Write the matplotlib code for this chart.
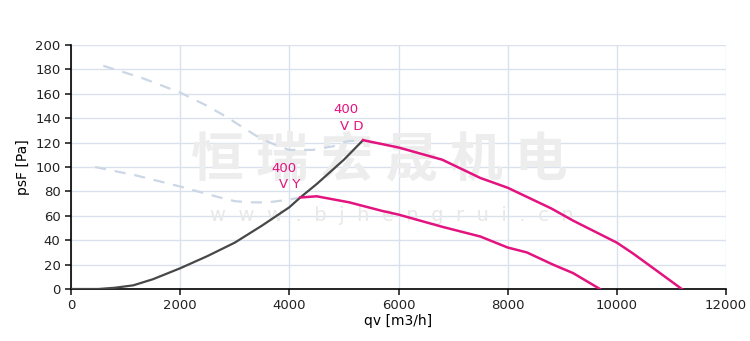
import matplotlib.pyplot as plt
import numpy as np

# system curve (black)
sys_qv = [0, 500, 800, 1140, 1500, 2000, 2500, 3000, 3500, 4000, 4200, 4500, 5000, 5350]
sys_ps = [0, 0, 1, 3, 8, 17, 27, 38, 52, 67, 75, 86, 106, 122]

# 400 VD
vd_qv = [5350, 6000, 6800, 7500, 8000, 8800, 9200, 10000, 10300, 10700, 11190]
vd_ps = [122, 116, 106, 91, 83, 66, 56, 38, 29, 16, 0]

# 400 VY
vy_qv = [4200, 4500, 5100, 5700, 6000, 6800, 7500, 8000, 8350, 8830, 9200, 9690]
vy_ps = [75, 76, 71, 64, 61, 51, 43, 34, 30, 20, 13, 0]

# dashed background curves
d1_qv = [590, 1300, 2000, 2500, 2850, 3200, 3450, 3750, 4000, 4430, 4800, 5050, 5350]
d1_ps = [183, 173, 161, 150, 141, 131, 124, 118, 114, 114, 117, 121, 122]
d2_qv = [440, 1200, 2000, 2400, 2730, 3000, 3280, 3600, 3960, 4200]
d2_ps = [100, 93, 84, 79, 75, 72, 71, 71, 73, 75]

xticks = np.arange(0, 12001, 2000)
yticks = np.arange(0, 201, 20)

pink = '#e3137f'

fig = plt.figure(figsize=(7.5, 3.41), dpi=100)
ax = fig.add_axes([0.0947, 0.1525, 0.8733, 0.7155])

ax.set_xlim(0, 12000)
ax.set_ylim(0, 200)
ax.set_xticks(xticks)
ax.set_yticks(yticks)
ax.grid(True, color='#d9e1ed', linewidth=1.0, zorder=0)
ax.set_axisbelow(True)

for s in ['top', 'right']:
    ax.spines[s].set_visible(False)
for s in ['left', 'bottom']:
    ax.spines[s].set_linewidth(1.2)
ax.tick_params(direction='out', length=4, width=1.2, labelsize=9.5, colors='#222222')
ax.tick_params(axis='x', pad=3)

# watermark
ax.text(0.47, 0.53, '恒 瑞 宏 晟 机 电', transform=ax.transAxes, ha='center', va='center',
        fontsize=38, fontweight='bold', color='#ededed', family=['Noto Sans CJK SC', 'DejaVu Sans'],
        zorder=1)
ax.text(0.49, 0.30, 'w  w  w  .  b  j  h  e  n  g  r  u  i  .  c  n', transform=ax.transAxes,
        ha='center', va='center', fontsize=14, color='#e8e8e8', zorder=1)

ax.plot(d1_qv, d1_ps, color='#ccd7e6', linestyle=(0, (5, 4)), linewidth=1.6, zorder=2)
ax.plot(d2_qv, d2_ps, color='#ccd7e6', linestyle=(0, (5, 4)), linewidth=1.6, zorder=2)
ax.plot(sys_qv, sys_ps, color='#474747', linewidth=1.6, zorder=3)
ax.plot(vd_qv, vd_ps, color=pink, linewidth=1.8, zorder=4)
ax.plot(vy_qv, vy_ps, color=pink, linewidth=1.8, zorder=4)

ax.text(5040, 147, '400', color=pink, fontsize=9.5, ha='center', va='center')
ax.text(5150, 133, 'V D', color=pink, fontsize=9.5, ha='center', va='center')
ax.text(3900, 99, '400', color=pink, fontsize=9.5, ha='center', va='center')
ax.text(4010, 86, 'V Y', color=pink, fontsize=9.5, ha='center', va='center')

ax.set_xlabel('qv [m3/h]', fontsize=10, labelpad=2)
ax.set_ylabel('psF [Pa]', fontsize=10, labelpad=4)

fig.savefig('out.png', dpi=100)
